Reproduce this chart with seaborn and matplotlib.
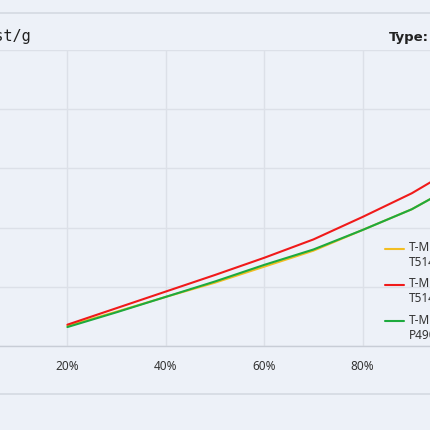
import numpy as np
import pandas as pd
import matplotlib
matplotlib.use("Agg")
import matplotlib.pyplot as plt
import seaborn as sns
from matplotlib.lines import Line2D
from matplotlib.legend_handler import HandlerLine2D

# data (y in grid units, one unit per gridline)
share = [0.2, 0.3, 0.4, 0.5, 0.6, 0.7, 0.8, 0.9, 1.0]
yellow_vals = [0.34, 0.58, 0.83, 1.07, 1.34, 1.61, 1.96, 2.31, 2.77]
red_vals = [0.36, 0.64, 0.92, 1.20, 1.49, 1.80, 2.18, 2.58, 3.07]
green_vals = [0.32, 0.57, 0.83, 1.09, 1.37, 1.63, 1.96, 2.31, 2.77]
names = ["T-MO\nT5140", "T-MO\nT5141", "T-MO\nP4900"]
colors = ["#F2BE22", "#F01A1A", "#1DAA3E"]
xticks = [0.0, 0.2, 0.4, 0.6, 0.8, 1.0]
xtick_labels = ["0%", "20%", "40%", "60%", "80%", "100%"]
yticks = [0, 1, 2, 3, 4, 5]

bg = "#EDF1F8"
grid = "#DCE0E8"

df = pd.concat([
    pd.DataFrame({"share": share, "value": yellow_vals, "type": names[0]}),
    pd.DataFrame({"share": share, "value": red_vals, "type": names[1]}),
    pd.DataFrame({"share": share, "value": green_vals, "type": names[2]}),
])


class TopLineHandler(HandlerLine2D):
    # put the legend line next to the first line of a two-line label
    def create_artists(self, legend, orig_handle, xdescent, ydescent,
                       width, height, fontsize, trans):
        return super().create_artists(legend, orig_handle, xdescent,
                                      ydescent - 10, width, height,
                                      fontsize, trans)


sns.set_style("whitegrid", {"axes.facecolor": bg, "grid.color": grid,
                            "figure.facecolor": bg})
plt.rcParams['font.family'] = ['Noto Sans', 'DejaVu Sans']

fig = plt.figure(figsize=(4.3, 4.3), dpi=100)
fig.patch.set_facecolor(bg)
W = 430.0
ax = fig.add_axes([-31 / W, (W - 346) / W, 492 / W, 296 / W])
ax.set_facecolor(bg)

sns.lineplot(data=df, x="share", y="value", hue="type", hue_order=names,
             palette=colors, linewidth=1.5, ax=ax)

ax.set_xlim(0, 1)
ax.set_ylim(0, 5)
ax.set_xticks(xticks, xtick_labels)
ax.set_yticks(yticks)
ax.set_xlabel("")
ax.set_ylabel("")
ax.grid(True, color=grid, linewidth=1)
ax.tick_params(length=0, labelsize=8.5, colors="#333333", pad=10)
for s in ["left", "right", "top"]:
    ax.spines[s].set_visible(False)
ax.spines["bottom"].set_color("#C8CDD6")
ax.spines["bottom"].set_linewidth(1)

handles, labels = ax.get_legend_handles_labels()
ax.legend(handles, labels, loc="upper left",
          bbox_to_anchor=(385 / W, 1 - 241 / W),
          bbox_transform=fig.transFigure, frameon=False,
          fontsize=8.5, handlelength=1.6, handletextpad=0.45,
          labelspacing=0.7, borderpad=0, borderaxespad=0,
          handler_map={Line2D: TopLineHandler()})
for t in ax.get_legend().get_texts():
    t.set_color("#333333")

# frame lines of the panel
fig.add_artist(Line2D([0, 1], [1 - 13 / W, 1 - 13 / W], transform=fig.transFigure,
                      color="#D4D9E2", linewidth=1.2))
fig.add_artist(Line2D([0, 1], [1 - 394 / W, 1 - 394 / W], transform=fig.transFigure,
                      color="#D4D9E2", linewidth=1.2))

fig.text(31 / W, 1 - 36 / W, "Cost/g", ha="right", va="center", fontsize=11,
         family="DejaVu Sans Mono", color="#222222")
fig.text(389 / W, 1 - 37 / W, "Type:", ha="left", va="center", fontsize=9.5,
         family="DejaVu Sans", fontweight="bold", color="#222222")

fig.savefig("out.png", dpi=100, facecolor=bg)
